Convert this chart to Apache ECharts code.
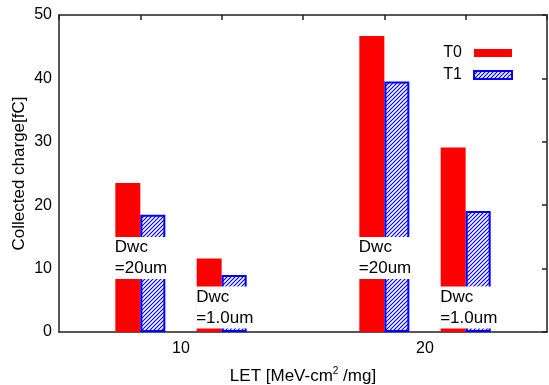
<!DOCTYPE html>
<html>
<head>
<meta charset="utf-8">
<script src="https://cdn.jsdelivr.net/npm/echarts@6/dist/echarts.min.js"></script>
<style>
  html, body { margin: 0; padding: 0; background: #fff; }
  #chart { width: 549px; height: 385px; }
</style>
</head>
<body>
<div id="chart"></div>
<script>
// group positions on the x scale (gnuplot histogram slots)
var groupX = [1, 2, 4, 5];
var groupLabels = { 1.5: '10', 4.5: '20' };
var t0Values = [23.5, 11.6, 46.7, 29.1];
var t1Values = [18.5, 9.0, 39.5, 19.1];
// white text boxes drawn over the bars
var boxTop = [14.9, 7.1, 14.9, 7.1];
var boxText = ['Dwc\n=20um', 'Dwc\n=1.0um', 'Dwc\n=20um', 'Dwc\n=1.0um'];

var FONT = 'Liberation Sans, Arial, sans-serif';

// hatch pattern for T1
var hatch = document.createElement('canvas');
hatch.width = 4; hatch.height = 4;
var ctx = hatch.getContext('2d');
ctx.fillStyle = '#fff';
ctx.fillRect(0, 0, 4, 4);
ctx.strokeStyle = '#0000ff';
ctx.lineWidth = 1.2;
ctx.beginPath();
ctx.moveTo(-1, 5); ctx.lineTo(5, -1);
ctx.moveTo(-1, 1); ctx.lineTo(1, -1);
ctx.moveTo(3, 5); ctx.lineTo(5, 3);
ctx.stroke();

var chart = echarts.init(document.getElementById('chart'));

var t0Data = groupX.map(function (x, i) { return [x, t0Values[i]]; });
var t1Data = groupX.map(function (x, i) { return [x, t1Values[i]]; });
var boxData = groupX.map(function (x, i) { return [x, boxTop[i], boxText[i]]; });

var frameLine = { show: true, onZero: false, lineStyle: { color: '#222', width: 1.5 } };
var frameTick = { show: true, inside: true, length: 5, lineStyle: { color: '#222', width: 1.5 } };

var option = {
    animation: false,
    textStyle: { fontFamily: FONT },
    grid: { left: 59, right: 2, top: 15, bottom: 53, outerBoundsMode: 'none' },
    legend: {
        orient: 'vertical',
        right: 31,
        top: 40,
        align: 'right',
        itemWidth: 38,
        itemHeight: 8,
        itemGap: 6,
        icon: 'rect',
        textStyle: { fontSize: 16, color: '#000', fontFamily: FONT, lineHeight: 16, padding: [0, 7, 0, 0] },
        data: ['T0', 'T1']
    },
    xAxis: [{
        type: 'value',
        min: 0, max: 6, interval: 1,
        position: 'bottom',
        splitLine: { show: false },
        axisLine: frameLine,
        axisTick: { show: false },
        axisLabel: {
            customValues: [1.5, 4.5],
            formatter: function (v) { return groupLabels[v] || ''; },
            fontSize: 16, color: '#000', margin: 9, fontFamily: FONT
        },
        name: 'LET [MeV-cm{sup|2} /mg]',
        nameLocation: 'middle',
        nameGap: 34,
        nameMoveOverlap: false,
        nameTextStyle: {
            fontSize: 17, color: '#000', fontFamily: FONT,
            rich: { sup: { fontSize: 10, padding: [0, 0, 11, 0], fontFamily: FONT, color: '#000' } }
        }
    }, {
        type: 'value',
        min: 0, max: 6, interval: 1,
        position: 'top',
        splitLine: { show: false },
        axisLine: frameLine,
        axisTick: frameTick,
        axisLabel: { show: false }
    }],
    yAxis: [{
        type: 'value',
        min: 0, max: 50, interval: 10,
        position: 'left',
        splitLine: { show: false },
        axisLine: frameLine,
        axisTick: { show: false },
        axisLabel: { fontSize: 16, color: '#000', margin: 7, fontFamily: FONT },
        name: 'Collected charge[fC]',
        nameLocation: 'middle',
        nameGap: 31,
        nameMoveOverlap: false,
        nameRotate: 90,
        nameTextStyle: { fontSize: 17, color: '#000', fontFamily: FONT }
    }, {
        type: 'value',
        min: 0, max: 50, interval: 10,
        position: 'right',
        splitLine: { show: false },
        axisLine: frameLine,
        axisTick: frameTick,
        axisLabel: { show: false }
    }],
    series: [{
        name: 'T0',
        type: 'bar',
        xAxisIndex: 0, yAxisIndex: 0,
        barWidth: 25,
        barGap: '0%',
        itemStyle: { color: '#ff0000' },
        data: t0Data,
        z: 2
    }, {
        name: 'T1',
        type: 'bar',
        xAxisIndex: 0, yAxisIndex: 0,
        barWidth: 25,
        barGap: '0%',
        itemStyle: {
            color: { image: hatch, repeat: 'repeat' },
            borderColor: '#0000ff',
            borderWidth: 2
        },
        data: t1Data,
        z: 2
    }, {
        type: 'scatter',
        xAxisIndex: 0, yAxisIndex: 0,
        symbol: 'rect',
        symbolSize: 1,
        itemStyle: { color: 'rgba(0,0,0,0)', opacity: 1 },
        silent: true,
        z: 5,
        data: boxData,
        label: {
            show: true,
            opacity: 1,
            position: [-25, 0],
            align: 'left',
            verticalAlign: 'top',
            formatter: function (p) { return p.data[2]; },
            backgroundColor: '#fff',
            padding: [0, 1, 0, 0],
            fontSize: 17,
            lineHeight: 21,
            color: '#000',
            fontFamily: FONT
        }
    }]
};

chart.setOption(option);
</script>
</body>
</html>
